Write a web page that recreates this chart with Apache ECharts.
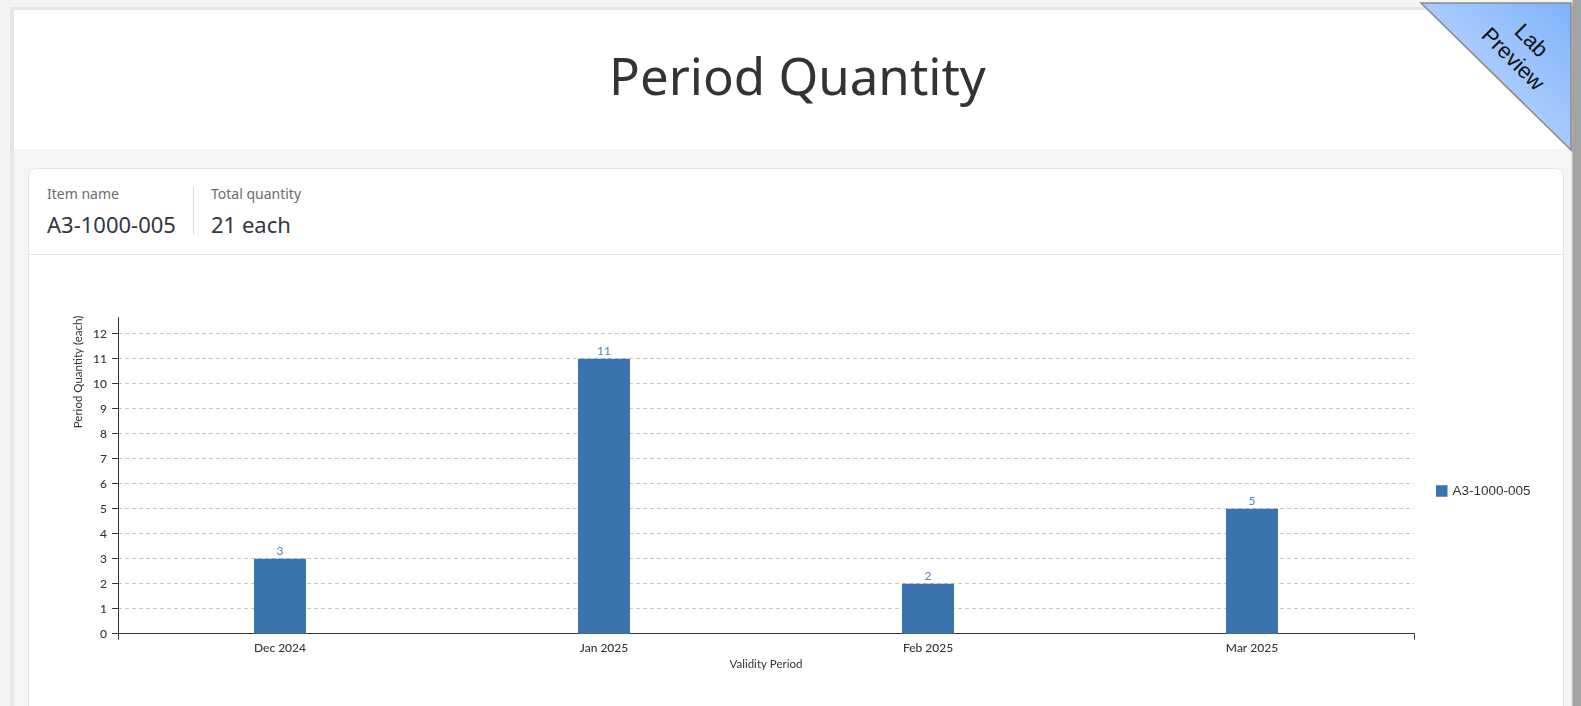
<!DOCTYPE html>
<html>
<head>
<meta charset="utf-8">
<title>Period Quantity</title>
<script src="https://cdn.jsdelivr.net/npm/echarts@6/dist/echarts.min.js"></script>
<style>
  html, body { margin: 0; padding: 0; }
  body { width: 1581px; height: 706px; overflow: hidden; position: relative; background: #f4f4f4; font-family: "Noto Sans", sans-serif; }
  .frame { position: absolute; left: 10px; top: 7px; width: 1562px; height: 720px; background: #e6e6e6; }
  .page { position: absolute; left: 14px; top: 10px; width: 1557px; height: 720px; background: #f5f5f5; }
  .header { position: absolute; left: 0; top: 0; width: 100%; height: 139px; background: #fff; }
  .header h1 { margin: 0; position: absolute; left: 10px; right: 0; top: 30px; text-align: center; font-weight: 400; font-size: 51px; color: #333; }
  .scroll { position: absolute; left: 1572px; top: 0; width: 9px; height: 706px; background: #a3a3a3; border-left: 1px solid #c4c4c4; }
  .card { position: absolute; left: 28px; top: 168px; width: 1534px; height: 600px; background: #fff; border: 1px solid #e3e3e3; border-radius: 8px; }
  .info { position: absolute; left: 0; top: 0; width: 100%; height: 85px; border-bottom: 1px solid #e5e5e5; }
  .field { position: absolute; top: 15px; }
  .field .lbl { font-size: 14px; color: #6a6d70; line-height: 20px; }
  .field .val { font-size: 22px; color: #32363a; line-height: 30px; margin-top: 5px; }
  .divider { position: absolute; left: 164px; top: 18px; width: 1px; height: 48px; background: #dcdcdc; }
  #chart { position: absolute; left: 28px; top: 255px; width: 1535px; height: 451px; }
  .ribbon { position: absolute; left: 1410px; top: 0; }
</style>
</head>
<body>
<div class="frame"></div>
<div class="page">
  <div class="header"><h1>Period Quantity</h1></div>
</div>
<div class="card">
  <div class="info">
    <div class="field" style="left:18px"><div class="lbl">Item name</div><div class="val">A3-1000-005</div></div>
    <div class="divider"></div>
    <div class="field" style="left:182px"><div class="lbl">Total quantity</div><div class="val">21 each</div></div>
  </div>
</div>
<div id="chart"></div>
<div class="scroll"></div>
<svg class="ribbon" width="171" height="160">
  <defs>
    <linearGradient id="rb" x1="0" y1="1" x2="1" y2="0">
      <stop offset="0" stop-color="#d2e3ff"/>
      <stop offset="1" stop-color="#7fb2fb"/>
    </linearGradient>
  </defs>
  <polygon points="11,3 161,3 161,150" fill="#000" opacity="0.12" transform="translate(2,3)"/>
  <polygon points="11,3 161,3 161,150" fill="url(#rb)" stroke="#8a8a8a" stroke-width="1.5"/>
  <g transform="translate(112,50) rotate(45)" font-family="Liberation Sans, Arial, sans-serif" font-size="22" fill="#111" text-anchor="middle">
    <text x="0" y="-6">Lab</text>
    <text x="0" y="20">Preview</text>
  </g>
</svg>
<script>
var seriesName = 'A3-1000-005';
var periods = ['Dec 2024', 'Jan 2025', 'Feb 2025', 'Mar 2025'];
var quantities = [3, 11, 2, 5];
var yMax = Math.max.apply(null, quantities) * 1.15;

var axisColor = '#333';
var labelFont = 'Lato, "Open Sans", sans-serif';

var myChart = echarts.init(document.getElementById('chart'));
var option = {
  animation: false,
  grid: { left: 90, top: 62.5, right: 149, bottom: 72.3, containLabel: false },
  legend: {
    data: [seriesName],
    left: 1403, top: 224,
    icon: 'rect', itemWidth: 11.5, itemHeight: 11.5,
    textStyle: { fontFamily: 'Liberation Sans, Arial, sans-serif', fontSize: 13.5, color: '#333' }
  },
  xAxis: [{
    type: 'category',
    data: periods,
    boundaryGap: true,
    name: 'Validity Period',
    nameLocation: 'middle',
    nameGap: 24,
    nameTextStyle: { fontFamily: labelFont, fontSize: 11.5, color: '#333' },
    axisLine: { lineStyle: { color: axisColor, width: 1 } },
    axisTick: { alignWithLabel: true, length: 6, lineStyle: { color: axisColor } },
    axisLabel: { fontFamily: labelFont, fontSize: 12, fontWeight: 500, color: '#333', margin: 8 },
    splitLine: { show: false }
  }, {
    type: 'value', position: 'bottom', min: 0, max: 1, interval: 1,
    axisLine: { show: true, lineStyle: { color: axisColor } },
    axisTick: { show: true, length: 6, lineStyle: { color: axisColor } },
    axisLabel: { show: false },
    splitLine: { show: false }
  }],
  yAxis: {
    type: 'value',
    min: 0, max: yMax, interval: 1,
    axisLine: { show: true, lineStyle: { color: axisColor, width: 1 } },
    axisTick: { show: true, length: 6, lineStyle: { color: axisColor } },
    axisLabel: {
      fontFamily: labelFont, fontSize: 12, fontWeight: 500, color: '#333', margin: 11,
      showMaxLabel: false,
      formatter: function (v) { return Number.isInteger(v) ? String(v) : ''; }
    },
    splitLine: { show: true, showMaxLine: false, lineStyle: { color: '#c8c8c8', type: [4, 3], width: 1 } }
  },
  graphic: [{
    type: 'text',
    x: 50, y: 117,
    rotation: Math.PI / 2,
    style: {
      text: 'Period Quantity (each)',
      fontFamily: labelFont, fontSize: 11.5, fill: '#333',
      align: 'center', verticalAlign: 'middle'
    }
  }],
  series: [{
    name: seriesName,
    type: 'bar',
    xAxisIndex: 0,
    data: quantities,
    barWidth: 52,
    itemStyle: { color: '#3a73ad' },
    label: {
      show: true, position: 'top', distance: 2,
      fontFamily: labelFont, fontSize: 12, color: '#4d85c4'
    }
  }]
};
myChart.setOption(option);
</script>
</body>
</html>
